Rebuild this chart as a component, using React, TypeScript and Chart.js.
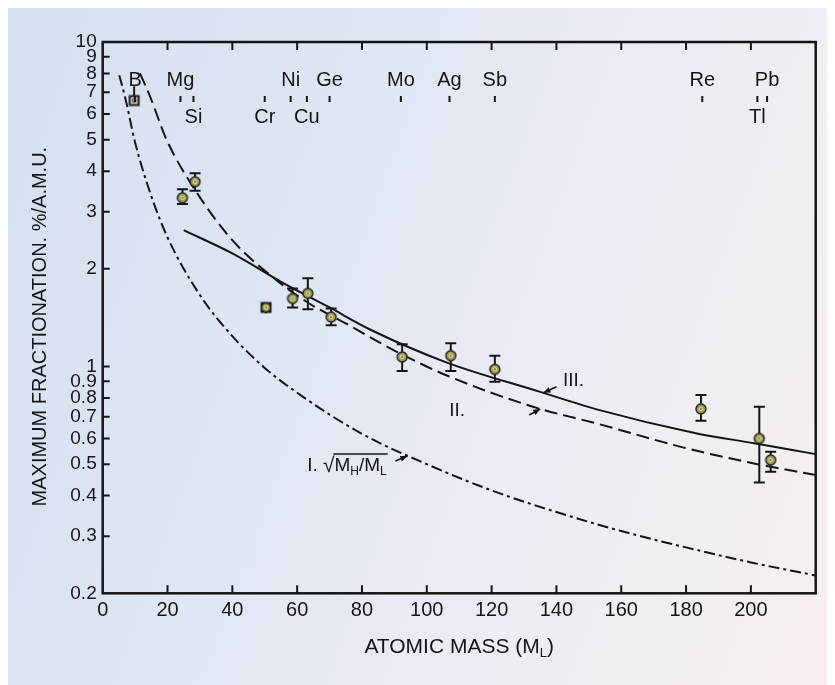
import React, { useEffect, useRef } from "react";
import { Chart, registerables } from "chart.js";

Chart.register(...registerables);

const FONT = "'Liberation Sans', Arial, Helvetica, sans-serif";
const INK = "#151515";

// Axis ticks
const xTickValues = [0, 20, 40, 60, 80, 100, 120, 140, 160, 180, 200];
const yTickValues = [0.2, 0.3, 0.4, 0.5, 0.6, 0.7, 0.8, 0.9, 1, 2, 3, 4, 5, 6, 7, 8, 9, 10];
const yTickLabels = ["0.2", "0.3", "0.4", "0.5", "0.6", "0.7", "0.8", "0.9", "1", "2", "3", "4", "5", "6", "7", "8", "9", "10"];

// Element markers along the top edge (upper row labelled above the tick, lower row below)
const upperElements = ["B", "Mg", "Ni", "Ge", "Mo", "Ag", "Sb", "Re", "Pb"];
const upperElementMass = [10, 24, 58, 70, 92, 107, 121, 185, 205];
const lowerElements = ["Si", "Cr", "Cu", "Tl"];
const lowerElementMass = [28, 50, 63, 202];

// Measured maximum fractionation (%/a.m.u.) with error limits
const sampleNames = ["B", "Mg", "Si", "Cr", "Ni", "Cu", "Ge", "Mo", "Ag", "Sb", "Re", "Tl", "Pb"];
const sampleMass = [9.7, 24.6, 28.5, 50.4, 58.6, 63.3, 70.5, 92.4, 107.4, 121.0, 184.6, 202.6, 206.1];
const sampleValue = [6.6, 3.31, 3.71, 1.52, 1.62, 1.68, 1.42, 1.07, 1.08, 0.98, 0.74, 0.6, 0.515];
const sampleHigh = [7.3, 3.52, 3.94, 1.57, 1.74, 1.87, 1.51, 1.17, 1.18, 1.08, 0.817, 0.752, 0.546];
const sampleLow = [6.6, 3.17, 3.48, 1.46, 1.52, 1.5, 1.34, 0.968, 0.968, 0.898, 0.68, 0.439, 0.474];
const sampleMarker = ["boxGrey", "circle", "circle", "boxOlive", "circle", "circle", "circle", "circle", "circle", "circle", "circle", "circle", "circle"];

// Curve I: sqrt(MH/ML)
const curveIMass = [5.1, 7, 10, 15, 20, 30, 40, 50, 60, 80, 100, 120, 140, 160, 180, 200, 220];
const curveIValue = [7.9, 6.7, 4.9, 3.35, 2.5, 1.66, 1.24, 0.99, 0.83, 0.62, 0.5, 0.415, 0.356, 0.311, 0.277, 0.249, 0.227];

// Curve II
const curveIIMass = [11.5, 14.6, 19.7, 28.5, 40, 55, 63, 76, 90, 106, 133, 153, 180, 202, 220];
const curveIIValue = [8.0, 6.8, 5.0, 3.5, 2.45, 1.8, 1.58, 1.34, 1.12, 0.94, 0.75, 0.665, 0.56, 0.5, 0.463];

// Curve III
const curveIIIMass = [25, 40, 56, 70, 82.5, 106, 135, 153, 183, 201, 220];
const curveIIIValue = [2.63, 2.23, 1.8, 1.52, 1.3, 1.03, 0.835, 0.735, 0.623, 0.58, 0.537];

// Curve labels: arrow tip sits on the curve at (mass, value)
const annotationText = ["I.", "II.", "III."];
const annotationMass = [94, 135, 136];
const annotationValue = [0.53, 0.74, 0.83];

function makeMarker(kind: string): HTMLCanvasElement {
  const c = document.createElement("canvas");
  c.width = 14;
  c.height = 14;
  const g = c.getContext("2d")!;
  if (kind === "boxGrey" || kind === "boxOlive") {
    g.fillStyle = "#1d1d1d";
    g.fillRect(1.5, 1.5, 11, 11);
    g.fillStyle = kind === "boxGrey" ? "#c9c9bd" : "#9d9d5a";
    if (kind === "boxGrey") {
      g.fillRect(3.5, 3.5, 7, 7);
    } else {
      g.beginPath();
      g.arc(7, 7, 3.8, 0, Math.PI * 2);
      g.fill();
    }
  } else {
    g.fillStyle = "#9d9d58";
    g.strokeStyle = "#25251b";
    g.lineWidth = 1.4;
    g.beginPath();
    g.arc(7, 7, 5, 0, Math.PI * 2);
    g.fill();
    g.stroke();
  }
  g.strokeStyle = kind === "boxGrey" ? "#333" : "#e2e2a4";
  g.lineWidth = 1;
  g.beginPath();
  g.arc(7, 7, 1.8, 0, Math.PI * 2);
  g.stroke();
  g.fillStyle = "#5a5a33";
  g.beginPath();
  g.arc(7, 7, 0.7, 0, Math.PI * 2);
  g.fill();
  return c;
}

function arrow(ctx: CanvasRenderingContext2D, x0: number, y0: number, x1: number, y1: number) {
  ctx.beginPath();
  ctx.moveTo(x0, y0);
  ctx.lineTo(x1, y1);
  ctx.stroke();
  const a = Math.atan2(y1 - y0, x1 - x0);
  const len = 7;
  const w = 3;
  ctx.beginPath();
  ctx.moveTo(x1, y1);
  ctx.lineTo(x1 - len * Math.cos(a) + w * Math.sin(a), y1 - len * Math.sin(a) - w * Math.cos(a));
  ctx.lineTo(x1 - len * Math.cos(a) - w * Math.sin(a), y1 - len * Math.sin(a) + w * Math.cos(a));
  ctx.closePath();
  ctx.fill();
}

const errorBars = {
  id: "errorBars",
  beforeDatasetsDraw(chart: any) {
    const { ctx } = chart;
    const x = chart.scales.x;
    const y = chart.scales.y;
    ctx.save();
    ctx.strokeStyle = INK;
    ctx.lineWidth = 2;
    sampleMass.forEach((m, i) => {
      const px = x.getPixelForValue(m);
      const yh = y.getPixelForValue(sampleHigh[i]);
      const yl = y.getPixelForValue(sampleLow[i]);
      ctx.beginPath();
      ctx.moveTo(px, yh);
      ctx.lineTo(px, yl);
      ctx.stroke();
      if (sampleMarker[i] === "circle") {
        ctx.beginPath();
        ctx.moveTo(px - 5.5, yh);
        ctx.lineTo(px + 5.5, yh);
        ctx.moveTo(px - 5.5, yl);
        ctx.lineTo(px + 5.5, yl);
        ctx.stroke();
      }
    });
    ctx.restore();
  },
};

const frame = {
  id: "frame",
  afterDraw(chart: any) {
    const { ctx, chartArea } = chart;
    const { left, right, top, bottom } = chartArea;
    const x = chart.scales.x;
    const y = chart.scales.y;
    ctx.save();
    ctx.strokeStyle = INK;
    ctx.fillStyle = INK;

    // plot frame
    ctx.lineWidth = 2.5;
    ctx.strokeRect(left, top, right - left, bottom - top);

    // inward tick marks
    ctx.lineWidth = 2;
    ctx.beginPath();
    xTickValues.forEach((v) => {
      if (v === 0) return;
      const px = x.getPixelForValue(v);
      ctx.moveTo(px, bottom);
      ctx.lineTo(px, bottom - 8);
      ctx.moveTo(px, top);
      ctx.lineTo(px, top + 8);
    });
    yTickValues.forEach((v, i) => {
      if (i === 0 || i === yTickValues.length - 1) return;
      const py = y.getPixelForValue(v);
      ctx.moveTo(left, py);
      ctx.lineTo(left + 7, py);
    });
    ctx.stroke();

    // element ticks and names
    ctx.font = `20px ${FONT}`;
    ctx.textAlign = "center";
    ctx.textBaseline = "middle";
    ctx.beginPath();
    upperElementMass.concat(lowerElementMass).forEach((m) => {
      const px = x.getPixelForValue(m);
      ctx.moveTo(px, top + 54);
      ctx.lineTo(px, top + 60);
    });
    ctx.stroke();
    upperElements.forEach((name, i) => {
      ctx.fillText(name, x.getPixelForValue(upperElementMass[i]), top + 38);
    });
    lowerElements.forEach((name, i) => {
      ctx.fillText(name, x.getPixelForValue(lowerElementMass[i]), top + 75);
    });

    // axis titles
    ctx.font = `21px ${FONT}`;
    const cx = (left + right) / 2;
    const ty = bottom + 54;
    const main = "ATOMIC MASS (M";
    const sub = "L";
    const close = ")";
    const wMain = ctx.measureText(main).width;
    const wClose = ctx.measureText(close).width;
    ctx.font = `13px ${FONT}`;
    const wSub = ctx.measureText(sub).width;
    const sx = cx - (wMain + wSub + wClose) / 2;
    ctx.textAlign = "left";
    ctx.font = `21px ${FONT}`;
    ctx.fillText(main, sx, ty);
    ctx.font = `13px ${FONT}`;
    ctx.fillText(sub, sx + wMain, ty + 6);
    ctx.font = `21px ${FONT}`;
    ctx.fillText(close, sx + wMain + wSub, ty);

    ctx.save();
    ctx.translate(32, (top + bottom) / 2 + 9);
    ctx.rotate(-Math.PI / 2);
    ctx.textAlign = "center";
    ctx.font = `20px ${FONT}`;
    ctx.fillText("MAXIMUM FRACTIONATION. %/A.M.U.", 0, 0);
    ctx.restore();

    // curve labels with arrows
    ctx.lineWidth = 1.6;
    const tips = annotationMass.map((m, i) => [x.getPixelForValue(m), y.getPixelForValue(annotationValue[i])]);
    // III
    {
      const [tx, tyy] = tips[2];
      arrow(ctx, tx + 13, tyy - 6, tx, tyy);
      ctx.font = `19px ${FONT}`;
      ctx.textAlign = "center";
      ctx.fillText(annotationText[2], tx + 30, tyy - 12);
    }
    // II
    {
      const [tx, tyy] = tips[1];
      arrow(ctx, tx - 11, tyy + 6, tx, tyy);
      ctx.font = `19px ${FONT}`;
      ctx.textAlign = "center";
      ctx.fillText(annotationText[1], tx - 83, tyy + 2);
    }
    // I with the radical expression
    {
      const [tx, tyy] = tips[0];
      arrow(ctx, tx - 12, tyy + 5, tx, tyy);
      const base = tyy + 15;
      let px = tx - 100;
      ctx.textAlign = "left";
      ctx.textBaseline = "alphabetic";
      ctx.font = `19px ${FONT}`;
      ctx.fillText(annotationText[0], px, base);
      px += ctx.measureText(annotationText[0]).width + 5;
      ctx.font = `21px ${FONT}`;
      ctx.fillText("\u221A", px, base + 1);
      px += ctx.measureText("\u221A").width;
      const barStart = px - 1;
      const parts: [string, boolean][] = [["M", false], ["H", true], ["/", false], ["M", false], ["L", true]];
      parts.forEach(([t, isSub]) => {
        ctx.font = isSub ? `12px ${FONT}` : `19px ${FONT}`;
        ctx.fillText(t, px, isSub ? base + 4 : base);
        px += ctx.measureText(t).width;
      });
      ctx.lineWidth = 1.5;
      ctx.beginPath();
      ctx.moveTo(barStart, base - 17);
      ctx.lineTo(px + 1, base - 17);
      ctx.stroke();
    }
    ctx.restore();
  },
};

export default function App() {
  const canvasRef = useRef<HTMLCanvasElement | null>(null);

  useEffect(() => {
    const canvas = canvasRef.current;
    if (!canvas) return;
    const markers = sampleMarker.map((k) => makeMarker(k));
    const toPoints = (xs: number[], ys: number[]) => xs.map((m, i) => ({ x: m, y: ys[i] }));
    const curveStyle = {
      borderColor: INK,
      borderWidth: 2,
      pointRadius: 0,
      fill: false,
      cubicInterpolationMode: "monotone" as const,
    };

    const chart = new Chart(canvas, {
      type: "line",
      data: {
        datasets: [
          {
            type: "scatter",
            label: "measured",
            data: sampleMass.map((m, i) => ({ x: m, y: sampleValue[i] })),
            pointStyle: markers as any,
            pointRadius: 7,
            pointHoverRadius: 7,
            showLine: false,
          } as any,
          { label: "III", data: toPoints(curveIIIMass, curveIIIValue), ...curveStyle },
          { label: "II", data: toPoints(curveIIMass, curveIIValue), ...curveStyle, borderDash: [13, 6] },
          { label: "I", data: toPoints(curveIMass, curveIValue), ...curveStyle, borderDash: [11, 4, 3, 4] },
        ],
      },
      options: {
        animation: false,
        responsive: false,
        events: [],
        plugins: { legend: { display: false }, tooltip: { enabled: false } },
        layout: { padding: { left: 0, top: 34, right: 19.3, bottom: 0 } },
        scales: {
          x: {
            type: "linear",
            min: 0,
            max: 220,
            grid: { display: false, drawTicks: false },
            border: { display: false },
            afterFit: (s: any) => {
              s.height = 91.7;
            },
            afterBuildTicks: (s: any) => {
              s.ticks = xTickValues.map((v) => ({ value: v }));
            },
            ticks: {
              autoSkip: false,
              maxRotation: 0,
              padding: 5,
              color: INK,
              font: { family: FONT, size: 20 },
              callback: (v: any) => String(v),
            },
          },
          y: {
            type: "logarithmic",
            min: 0.2,
            max: 10,
            grid: { display: false, drawTicks: false },
            border: { display: false },
            afterFit: (s: any) => {
              s.width = 94.7;
            },
            afterBuildTicks: (s: any) => {
              s.ticks = yTickValues.map((v) => ({ value: v }));
            },
            ticks: {
              autoSkip: false,
              padding: 6,
              color: INK,
              font: { family: FONT, size: 19 },
              callback: (_v: any, i: number) => yTickLabels[i],
            },
          },
        },
      },
      plugins: [errorBars, frame],
    });
    return () => chart.destroy();
  }, []);

  return (
    <div
      style={{
        width: 827,
        height: 677,
        background: "linear-gradient(110deg, #d3dff0 0%, #e1e7f3 40%, #eeedf4 70%, #f7eef0 100%)",
      }}
    >
      <canvas ref={canvasRef} width={827} height={677} style={{ display: "block" }} />
    </div>
  );
}
